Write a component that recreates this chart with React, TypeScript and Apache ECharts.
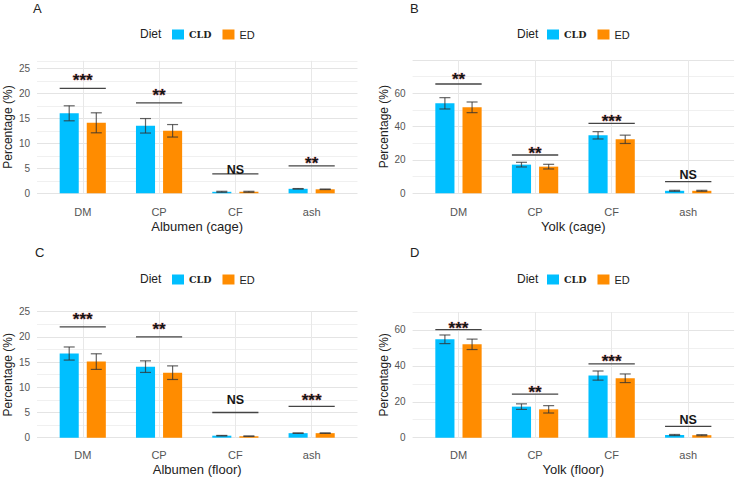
import React, { useEffect, useRef } from 'react';
import * as echarts from 'echarts';

const categories = ['DM', 'CP', 'CF', 'ash'];
const dietNames = ['CLD', 'ED'];

// Panel A – Albumen (cage)
const albCageCLD = [16.0, 13.5, 0.3, 0.9];
const albCageCLDErr = [1.5, 1.45, 0.1, 0.05];
const albCageED = [14.1, 12.5, 0.3, 0.8];
const albCageEDErr = [2.0, 1.25, 0.1, 0.05];
const albCageSigLine = [21.0, 18.1, 3.9, 5.5];
const albCageSigText = [23.5, 20.5, 4.7, 6.8];
const albCageSigLabel = ['***', '**', 'NS', '**'];

// Panel B – Yolk (cage)
const yolkCageCLD = [54.0, 17.2, 34.8, 1.5];
const yolkCageCLDErr = [3.4, 1.4, 2.2, 0.3];
const yolkCageED = [51.6, 16.0, 32.4, 1.5];
const yolkCageEDErr = [3.2, 1.4, 2.5, 0.3];
const yolkCageSigLine = [65.6, 23.0, 42.0, 7.0];
const yolkCageSigText = [71.0, 26.6, 46.0, 11.4];
const yolkCageSigLabel = ['**', '**', '***', 'NS'];

// Panel C – Albumen (floor)
const albFloorCLD = [16.7, 14.1, 0.4, 0.9];
const albFloorCLDErr = [1.3, 1.15, 0.05, 0.05];
const albFloorED = [15.1, 12.9, 0.3, 0.9];
const albFloorEDErr = [1.55, 1.35, 0.05, 0.05];
const albFloorSigLine = [22.0, 20.0, 5.0, 6.2];
const albFloorSigText = [24.3, 22.3, 7.6, 8.3];
const albFloorSigLabel = ['***', '**', 'NS', '***'];

// Panel D – Yolk (floor)
const yolkFloorCLD = [54.8, 17.3, 34.6, 1.5];
const yolkFloorCLDErr = [2.4, 1.55, 2.55, 0.3];
const yolkFloorED = [52.0, 15.8, 33.1, 1.4];
const yolkFloorEDErr = [2.9, 2.05, 2.4, 0.3];
const yolkFloorSigLine = [60.2, 24.3, 41.1, 6.3];
const yolkFloorSigText = [63.2, 27.9, 45.1, 10.2];
const yolkFloorSigLabel = ['***', '**', '***', 'NS'];

const panelLetters = ['A', 'B', 'C', 'D'];
const panelTitles = ['Albumen (cage)', 'Yolk (cage)', 'Albumen (floor)', 'Yolk (floor)'];
const yMaxes = [26.5, 80, 25, 70];
const yLabelSteps = [5, 20, 5, 20];
const yLabelMaxes = [25, 60, 25, 60];
const yGridSteps = [2.5, 10, 2.5, 10];

const COLORS = ['#00BFFF', '#FF8C00'];
const FONT = 'Liberation Sans, Arial, sans-serif';
const BAR_FRAC = 0.25;
const GAP_FRAC = 0.42;

const panelData = [
  { cld: albCageCLD, cldErr: albCageCLDErr, ed: albCageED, edErr: albCageEDErr, sigLine: albCageSigLine, sigText: albCageSigText, sigLabel: albCageSigLabel },
  { cld: yolkCageCLD, cldErr: yolkCageCLDErr, ed: yolkCageED, edErr: yolkCageEDErr, sigLine: yolkCageSigLine, sigText: yolkCageSigText, sigLabel: yolkCageSigLabel },
  { cld: albFloorCLD, cldErr: albFloorCLDErr, ed: albFloorED, edErr: albFloorEDErr, sigLine: albFloorSigLine, sigText: albFloorSigText, sigLabel: albFloorSigLabel },
  { cld: yolkFloorCLD, cldErr: yolkFloorCLDErr, ed: yolkFloorED, edErr: yolkFloorEDErr, sigLine: yolkFloorSigLine, sigText: yolkFloorSigText, sigLabel: yolkFloorSigLabel },
];

// layout per panel
const layout = [
  { bgLeft: 37, bgWidth: 320.5, fgLeft: 44.6, fgWidth: 305.2, top: 60.8, height: 132.5, letterLeft: 33, letterTop: 2, dietLeft: 140, dietTop: 28, legendLeft: 172, legendTop: 29, xNameGap: 27, xLabelMargin: 13 },
  { bgLeft: 412.6, bgWidth: 321.5, fgLeft: 420.2, fgWidth: 306.3, top: 60, height: 133.3, letterLeft: 410, letterTop: 2, dietLeft: 517, dietTop: 28, legendLeft: 547, legendTop: 29, xNameGap: 27, xLabelMargin: 13 },
  { bgLeft: 37, bgWidth: 320.5, fgLeft: 44.6, fgWidth: 305.2, top: 311.7, height: 126, letterLeft: 35, letterTop: 246, dietLeft: 140, dietTop: 273, legendLeft: 172, legendTop: 274, xNameGap: 25, xLabelMargin: 12 },
  { bgLeft: 412.6, bgWidth: 321.5, fgLeft: 420.2, fgWidth: 306.3, top: 312, height: 125.7, letterLeft: 410, letterTop: 246, dietLeft: 517, dietTop: 273, legendLeft: 547, legendTop: 274, xNameGap: 25, xLabelMargin: 12 },
];

function dodge(band: number, g: number) {
  const w = band * BAR_FRAC;
  const gap = w * GAP_FRAC;
  return (g === 0 ? -1 : 1) * (w + gap) / 2;
}

function buildOption() {
  const grid: any[] = [];
  const xAxis: any[] = [];
  const yAxis: any[] = [];
  const series: any[] = [];
  const title: any[] = [];
  const legend: any[] = [];

  layout.forEach((L, p) => {
    const d = panelData[p];
    const bg = 2 * p;
    const fg = 2 * p + 1;
    grid.push({ left: L.bgLeft, top: L.top, width: L.bgWidth, height: L.height, containLabel: false });
    grid.push({ left: L.fgLeft, top: L.top, width: L.fgWidth, height: L.height, containLabel: false });

    xAxis.push({ type: 'value', gridIndex: bg, min: 0, max: 1, show: false });
    xAxis.push({
      type: 'category', gridIndex: fg, data: categories,
      axisLine: { show: false }, axisTick: { show: false },
      axisLabel: { fontSize: 11, color: '#555', fontFamily: FONT, margin: L.xLabelMargin },
      splitLine: { show: true, alignWithLabel: true, lineStyle: { color: '#e8e8e8', width: 1 } },
      name: panelTitles[p], nameLocation: 'middle', nameGap: L.xNameGap,
      nameTextStyle: { fontSize: 13, color: '#222', fontFamily: FONT },
    });

    const step = yLabelSteps[p];
    const labelMax = yLabelMaxes[p];
    yAxis.push({
      type: 'value', gridIndex: bg, min: 0, max: yMaxes[p], interval: yGridSteps[p],
      axisLine: { show: false }, axisTick: { show: false },
      axisLabel: {
        fontSize: 10, color: '#555', fontFamily: FONT, margin: 7,
        formatter: (v: number) =>
          (v <= labelMax + 1e-6 && Math.abs(v / step - Math.round(v / step)) < 1e-6 ? String(v) : ''),
      },
      splitLine: { show: true, lineStyle: { color: ['#e4e4e4', '#f0f0f0'], width: 1 } },
      name: 'Percentage (%)', nameLocation: 'middle', nameGap: 23,
      nameTextStyle: { fontSize: 12, color: '#222', fontFamily: FONT },
    });
    yAxis.push({ type: 'value', gridIndex: fg, min: 0, max: yMaxes[p], show: false, splitLine: { show: false } });

    const vals = [d.cld, d.ed];
    const errs = [d.cldErr, d.edErr];
    dietNames.forEach((nm, g) => {
      series.push({
        type: 'bar', name: nm, xAxisIndex: fg, yAxisIndex: fg,
        data: vals[g], barWidth: BAR_FRAC * 100 + '%', barGap: GAP_FRAC * 100 + '%',
        itemStyle: { color: COLORS[g] }, z: 2,
      });
    });

    const errData: number[][] = [];
    dietNames.forEach((_, g) => {
      categories.forEach((_, i) => errData.push([i, vals[g][i], errs[g][i], g]));
    });
    series.push({
      type: 'custom', xAxisIndex: fg, yAxisIndex: fg, z: 3, silent: true,
      dimensions: ['x', 'y', 'e', 'g'], encode: { x: 0, y: 1 },
      data: errData,
      renderItem: (params: any, api: any) => {
        const i = api.value(0), v = api.value(1), e = api.value(2), g = api.value(3);
        const band = api.size([1, 0])[0];
        const x = api.coord([i, v])[0] + dodge(band, g);
        const yT = api.coord([i, v + e])[1];
        const yB = api.coord([i, Math.max(0, v - e)])[1];
        const cap = 5.5;
        const st = { stroke: 'rgba(50,50,50,0.75)', lineWidth: 1.2 };
        return {
          type: 'group', children: [
            { type: 'line', shape: { x1: x, y1: yT, x2: x, y2: yB }, style: st },
            { type: 'line', shape: { x1: x - cap, y1: yT, x2: x + cap, y2: yT }, style: st },
            { type: 'line', shape: { x1: x - cap, y1: yB, x2: x + cap, y2: yB }, style: st },
          ],
        };
      },
    });

    const sigData = categories.map((_, i) => [i, d.sigLine[i], d.sigText[i]]);
    series.push({
      type: 'custom', xAxisIndex: fg, yAxisIndex: fg, z: 4, silent: true,
      dimensions: ['x', 'ly', 'ty'], encode: { x: 0, y: 1 },
      data: sigData,
      renderItem: (params: any, api: any) => {
        const i = api.value(0), ly = api.value(1), ty = api.value(2);
        const band = api.size([1, 0])[0];
        const w = band * BAR_FRAC;
        const half = w + (w * GAP_FRAC) / 2;
        const c = api.coord([i, ly]);
        const tY = api.coord([i, ty])[1];
        const label = d.sigLabel[params.dataIndex];
        const isStar = label.indexOf('*') >= 0;
        const fs = isStar ? 17 : 12.5;
        return {
          type: 'group', children: [
            { type: 'line', shape: { x1: c[0] - half, y1: c[1], x2: c[0] + half, y2: c[1] }, style: { stroke: '#444', lineWidth: 1.3 } },
            {
              type: 'text', x: c[0], y: tY + (isStar ? fs * 0.27 : 0.5),
              style: {
                text: label, fontSize: fs, fontWeight: 'bold', fontFamily: FONT,
                fill: '#151515', align: 'center', verticalAlign: 'middle',
                stroke: isStar ? 'rgba(200,30,30,0.5)' : 'rgba(0,0,0,0)', lineWidth: isStar ? 0.6 : 0,
              },
            },
          ],
        };
      },
    });

    title.push({ text: panelLetters[p], left: L.letterLeft, top: L.letterTop, padding: 0, textStyle: { fontSize: 13, fontWeight: 'normal', color: '#222', fontFamily: FONT } });
    title.push({ text: 'Diet', left: L.dietLeft, top: L.dietTop, padding: 0, textStyle: { fontSize: 12, fontWeight: 'normal', color: '#222', fontFamily: FONT } });

    legend.push({
      left: L.legendLeft, top: L.legendTop, padding: 0, orient: 'horizontal',
      icon: 'rect', itemWidth: 12, itemHeight: 10, itemGap: 11, selectedMode: false,
      textStyle: { fontSize: 11, color: '#222', fontFamily: FONT },
      data: [
        { name: 'CLD', textStyle: { fontFamily: 'DejaVu Serif, Liberation Serif, serif', fontWeight: 'bold', fontSize: 9.5, color: '#222' } },
        { name: 'ED', textStyle: { fontSize: 11, color: '#222', fontFamily: FONT } },
      ],
    });
  });

  return {
    animation: false,
    backgroundColor: '#ffffff',
    textStyle: { fontFamily: FONT },
    title, legend, grid, xAxis, yAxis, series,
  };
}

export default function App() {
  const ref = useRef<HTMLDivElement>(null);
  useEffect(() => {
    if (!ref.current) return;
    const chart = echarts.init(ref.current, undefined, { renderer: 'svg' });
    chart.setOption(buildOption() as any);
    return () => chart.dispose();
  }, []);
  return <div ref={ref} style={{ position: 'fixed', left: 0, top: 0, width: 735, height: 477 }} />;
}
